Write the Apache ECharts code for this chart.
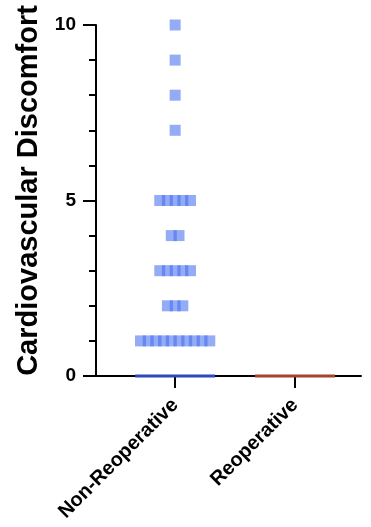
<!DOCTYPE html>
<html>
<head>
<meta charset="utf-8">
<script src="https://cdn.jsdelivr.net/npm/echarts@6/dist/echarts.min.js"></script>
<style>html,body{margin:0;padding:0;background:#fff;}#c{width:371px;height:527px;}</style>
</head>
<body>
<div id="c"></div>
<script>
// ---- data ----
var categories = ['Non-Reoperative', 'Reoperative'];
// visible (non-zero) scores per group
var nonReoperativeScores = [1,1,1,1,1,1,1,1,1,1, 2,2,2, 3,3,3,3,3, 4,4, 5,5,5,5,5, 7, 8, 9, 10];
var reoperativeScores = [];
var medians = [0, 0];
var yTicks = [0, 5, 10];

var groups = [nonReoperativeScores, reoperativeScores];
var colors = ['rgba(70,110,240,0.72)', 'rgba(200,80,50,0.72)'];
var medianColors = ['#2c4bbb', '#a3452d'];

var pxPerUnit = 120;
var spacing = 7.7 / pxPerUnit;
var halfMedian = 40 / pxPerUnit;
var FONT = 'Liberation Sans, Arial, sans-serif';

var series = [];
groups.forEach(function (vals, gi) {
  var counts = {};
  vals.forEach(function (v) { counts[v] = (counts[v] || 0) + 1; });
  var seen = {};
  var pts = vals.map(function (v) {
    var n = counts[v];
    var k = seen[v] = (seen[v] === undefined ? 0 : seen[v] + 1);
    return [gi + (k - (n - 1) / 2) * spacing, v];
  });
  series.push({
    type: 'scatter', data: pts, symbol: 'rect', symbolSize: 11,
    itemStyle: { color: colors[gi] }, z: 3, silent: true
  });
  series.push({
    type: 'line', data: [[gi - halfMedian, medians[gi]], [gi + halfMedian, medians[gi]]],
    symbol: 'none', clip: false, lineStyle: { color: medianColors[gi], width: 3 }, z: 5, silent: true
  });
});

var chart = echarts.init(document.getElementById('c'));
chart.setOption({
  animation: false,
  grid: { left: 96, right: 10, top: 25, bottom: 151, containLabel: false },
  xAxis: {
    type: 'value', min: -0.66, max: 1.55,
    splitLine: { show: false },
    axisLine: { show: true, onZero: false, lineStyle: { color: '#000', width: 2 } },
    axisTick: { show: true, customValues: [0, 1], length: 12, lineStyle: { color: '#000', width: 2 } },
    axisLabel: {
      customValues: [0, 1], rotate: 45, margin: 26,
      formatter: function (v) { return categories[Math.round(v)]; },
      color: '#000', fontWeight: 'bold', fontSize: 20, fontFamily: FONT
    }
  },
  yAxis: [
    {
      type: 'value', min: 0, max: 10, interval: 1, position: 'left',
      name: 'Cardiovascular Discomfort', nameLocation: 'middle', nameGap: 52,
      nameTextStyle: { color: '#000', fontWeight: 'bold', fontSize: 29, fontFamily: FONT, padding: [0, 0, 0, 20] },
      splitLine: { show: false },
      axisLine: { show: true, onZero: false, lineStyle: { color: '#000', width: 2 } },
      axisTick: { show: true, length: 7, lineStyle: { color: '#000', width: 2 } },
      axisLabel: {
        customValues: yTicks, margin: 20,
        color: '#000', fontWeight: 'bold', fontSize: 19, fontFamily: FONT
      }
    },
    {
      type: 'value', min: 0, max: 10, position: 'left',
      axisLine: { show: false, onZero: false }, splitLine: { show: false }, axisLabel: { show: false },
      axisTick: { show: true, customValues: yTicks, length: 13, lineStyle: { color: '#000', width: 2 } }
    }
  ],
  series: series
});
</script>
</body>
</html>
